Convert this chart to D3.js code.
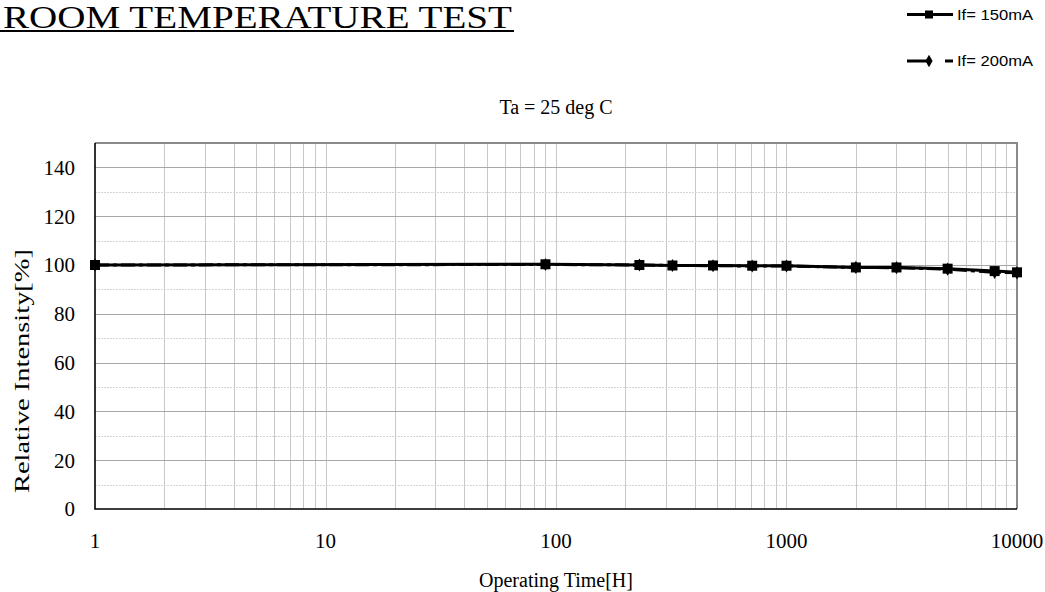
<!DOCTYPE html>
<html><head><meta charset="utf-8">
<script src="https://cdn.jsdelivr.net/npm/d3@7"></script>
<style>html,body{margin:0;padding:0;background:#fff;}svg{display:block;}</style>
</head><body>
<svg id="c" width="1045" height="592"></svg>
<script>
const titleText = "ROOM TEMPERATURE TEST";
const subtitle = "Ta = 25 deg C";
const xLabel = "Operating Time[H]";
const yLabel = "Relative Intensity[%]";
const seriesNames = ["If= 150mA", "If= 200mA"];
const hours = [1, 90, 230, 320, 480, 710, 1000, 2000, 3000, 5000, 8000, 10000];
const values150 = [100, 100.3, 100, 99.8, 99.8, 99.7, 99.7, 99.0, 99.0, 98.5, 97.5, 97.0];
const values200 = [100, 100.2, 100, 99.8, 99.7, 99.6, 99.6, 99.0, 98.9, 98.3, 97.0, 96.8];
const yTicks = [0, 20, 40, 60, 80, 100, 120, 140];
const xTicks = [1, 10, 100, 1000, 10000];

const svg = d3.select("#c");
const L = 95, R = 1017, T = 143, B = 509;
const x = d3.scaleLog().domain([1, 10000]).range([L, R]);
const y = d3.scaleLinear().domain([0, 150]).range([B, T]);
const serif = "'Liberation Serif','Times New Roman',serif";
const sans = "'Liberation Sans',Arial,sans-serif";

// grid
const g = svg.append("g");
const minorX = [];
for (let d = 1; d < 10000; d *= 10) for (let k = 1; k <= 10; k++) minorX.push(d * k);
g.selectAll("line.vx").data(minorX.filter(v => v > 1 && v < 10000)).join("line")
  .attr("x1", d => Math.round(x(d)) + 0.5).attr("x2", d => Math.round(x(d)) + 0.5)
  .attr("y1", T).attr("y2", B)
  .attr("stroke", "#c8c8c8").attr("stroke-width", 1);
const hMinor = d3.range(10, 150, 20);
g.selectAll("line.hm").data(hMinor).join("line")
  .attr("x1", L).attr("x2", R)
  .attr("y1", d => Math.round(y(d)) + 0.5).attr("y2", d => Math.round(y(d)) + 0.5)
  .attr("stroke", "#d4d4d4").attr("stroke-width", 1).attr("stroke-dasharray", "2,1");
g.selectAll("line.hM").data(yTicks.filter(v => v > 0)).join("line")
  .attr("x1", L).attr("x2", R)
  .attr("y1", d => Math.round(y(d)) + 0.5).attr("y2", d => Math.round(y(d)) + 0.5)
  .attr("stroke", "#a8a8a8").attr("stroke-width", 1);

// border
svg.append("path").attr("d", `M${L},${T}H${R}V${B}`).attr("fill", "none")
  .attr("stroke", "#8a8a8a").attr("stroke-width", 2);
svg.append("path").attr("d", `M${L},${T}V${B}H${R}`).attr("fill", "none")
  .attr("stroke", "#000").attr("stroke-width", 1.6);

// axes labels
svg.append("g").selectAll("text").data(yTicks).join("text")
  .attr("x", 75).attr("y", d => y(d)).attr("dy", "0.35em").attr("text-anchor", "end")
  .attr("font-family", serif).attr("font-size", 21).text(d => d);
svg.append("g").selectAll("text").data(xTicks).join("text")
  .attr("x", d => x(d)).attr("y", 541).attr("dy", "0.35em").attr("text-anchor", "middle")
  .attr("font-family", serif).attr("font-size", 21).text(d => d);

svg.append("text").attr("x", 556).attr("y", 580).attr("dy", "0.35em").attr("text-anchor", "middle")
  .attr("font-family", serif).attr("font-size", 20).text(xLabel);
svg.append("text").attr("transform", "translate(22,371) rotate(-90)").attr("dy", "0.35em")
  .attr("text-anchor", "middle").attr("font-family", serif).attr("font-size", 21)
  .attr("textLength", 244).attr("lengthAdjust", "spacingAndGlyphs").text(yLabel);
svg.append("text").attr("x", 556).attr("y", 107).attr("dy", "0.35em").attr("text-anchor", "middle")
  .attr("font-family", serif).attr("font-size", 20).text(subtitle);

// title
svg.append("text").attr("x", 3).attr("y", 28).attr("font-family", serif).attr("font-size", 31)
  .attr("textLength", 509).attr("lengthAdjust", "spacingAndGlyphs").text(titleText);
svg.append("line").attr("x1", 0).attr("x2", 514).attr("y1", 31).attr("y2", 31)
  .attr("stroke", "#000").attr("stroke-width", 2);

// series
const line = d3.line().x(d => x(d[0])).y(d => y(d[1]));
const d150 = hours.map((h, i) => [h, values150[i]]);
const d200 = hours.map((h, i) => [h, values200[i]]);

svg.append("path").datum(d200).attr("d", line).attr("fill", "none")
  .attr("stroke", "#000").attr("stroke-width", 3).attr("stroke-dasharray", "14,4,4,4");
svg.append("g").selectAll("path").data(d200).join("path")
  .attr("transform", d => `translate(${x(d[0])},${y(d[1])})`)
  .attr("d", d3.symbol().type(d3.symbolDiamond).size(50)).attr("fill", "#000");

svg.append("path").datum(d150).attr("d", line).attr("fill", "none")
  .attr("stroke", "#000").attr("stroke-width", 3);
svg.append("g").selectAll("rect").data(d150).join("rect")
  .attr("x", d => x(d[0]) - 5).attr("y", d => y(d[1]) - 5)
  .attr("width", 10).attr("height", 10).attr("fill", "#000");

// legend
const lg = svg.append("g");
lg.append("line").attr("x1", 907).attr("x2", 953).attr("y1", 14.5).attr("y2", 14.5)
  .attr("stroke", "#000").attr("stroke-width", 3);
lg.append("rect").attr("x", 925).attr("y", 10.5).attr("width", 8).attr("height", 8).attr("fill", "#000");
lg.append("text").attr("x", 957).attr("y", 15).attr("dy", "0.35em").attr("font-family", sans)
  .attr("font-size", 14).attr("textLength", 76).attr("lengthAdjust", "spacingAndGlyphs").text(seriesNames[0]);

lg.append("line").attr("x1", 907).attr("x2", 928).attr("y1", 61).attr("y2", 61)
  .attr("stroke", "#000").attr("stroke-width", 3);
lg.append("line").attr("x1", 945).attr("x2", 953).attr("y1", 61).attr("y2", 61)
  .attr("stroke", "#000").attr("stroke-width", 3);
lg.append("path").attr("transform", "translate(929,61)")
  .attr("d", d3.symbol().type(d3.symbolDiamond).size(45)).attr("fill", "#000");
lg.append("text").attr("x", 957).attr("y", 61).attr("dy", "0.35em").attr("font-family", sans)
  .attr("font-size", 14).attr("textLength", 76).attr("lengthAdjust", "spacingAndGlyphs").text(seriesNames[1]);
</script>
</body></html>
